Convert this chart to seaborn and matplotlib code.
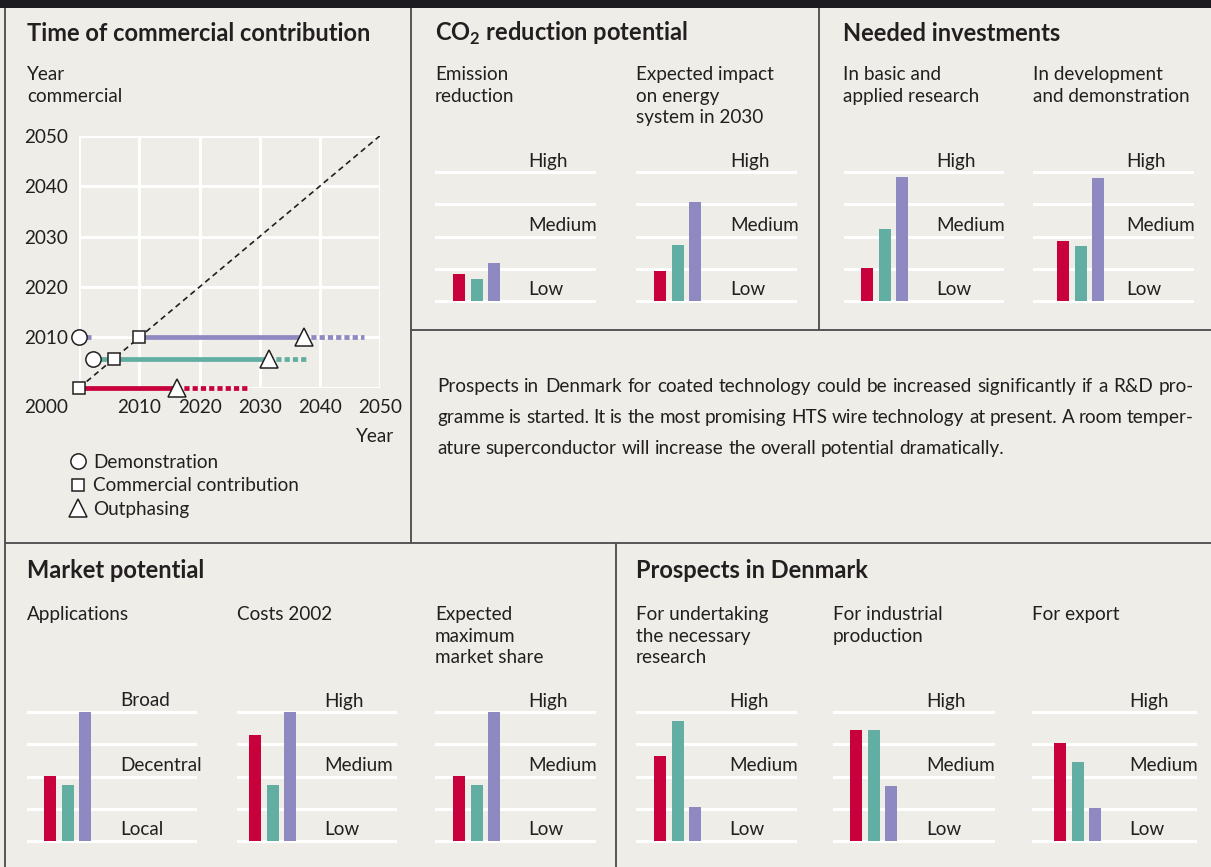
import matplotlib
matplotlib.use("Agg")
import matplotlib.pyplot as plt
import numpy as np
import pandas as pd
import seaborn as sns

W, H = 1211, 867
BG = "#EEEDE7"
INK = "#231F20"
RULE = "#4A4A4A"
RED, TEAL, PURPLE = "#C8003C", "#62AEA2", "#8F89C1"
SERIES_COLORS = [RED, TEAL, PURPLE]

# Time of commercial contribution (one row per technology, row height = commercial year)
demo_year = [np.nan, 2002.3, 2000.0]
demo_line_end = [np.nan, 2005.7, 2002.0]
commercial_year = [2000.0, 2005.7, 2010.0]
outphase_year = [2016.2, 2031.6, 2037.3]
outphase_end = [2028.4, 2038.1, 2047.4]
axis_years = [2000, 2010, 2020, 2030, 2040, 2050]
legend_labels = ["Demonstration", "Commercial contribution", "Outphasing"]

# Rating charts, 0..4 scale with labels on levels 0, 2 and 4
level_lines = [0, 1, 2, 3, 4]
label_levels = [0, 2, 4]
rating_labels = ["Low", "Medium", "High"]
application_labels = ["Local", "Decentral", "Broad"]
techs = ["red", "teal", "purple"]

emission_reduction = [0.83, 0.68, 1.17]
energy_impact_2030 = [0.92, 1.73, 3.07]
invest_research = [1.02, 2.23, 3.85]
invest_development = [1.86, 1.70, 3.82]
applications = [2.01, 1.73, 4.00]
costs_2002 = [3.30, 1.74, 4.00]
max_market_share = [2.02, 1.74, 4.00]
dk_research = [2.64, 3.73, 1.05]
dk_production = [3.46, 3.46, 1.71]
dk_export = [3.05, 2.46, 1.03]

body_lines = [
    "Prospects in Denmark for coated technology could be increased significantly if a R&D pro-",
    "gramme is started. It is the most promising HTS wire technology at present. A room temper-",
    "ature superconductor will increase the overall potential dramatically.",
]

plt.rcParams["font.family"] = ["Lato", "DejaVu Sans"]
plt.rcParams["mathtext.fontset"] = "custom"
plt.rcParams["mathtext.rm"] = "Lato"
plt.rcParams["mathtext.bf"] = "Lato:bold"
FS = 13.6
TFS = 17

fig = plt.figure(figsize=(W / 100, H / 100), dpi=100, facecolor=BG)


def px_axes(left, top, right, bottom):
    return fig.add_axes([left / W, 1 - bottom / H, (right - left) / W, (bottom - top) / H])


# overlay in pixel coordinates for frames and text
ov = px_axes(0, 0, W, H)
ov.set_xlim(0, W)
ov.set_ylim(H, 0)
ov.set_axis_off()

ov.add_patch(plt.Rectangle((0, 0), W, 8, color="#1C1B20", lw=0))
for (x0, y0), (x1, y1) in [((4.5, 8), (4.5, H)), ((411, 8), (411, 543)), ((819, 8), (819, 330)),
                           ((411, 330), (W, 330)), ((4.5, 543), (W, 543)), ((615.5, 543), (615.5, H))]:
    ov.plot([x0, x1], [y0, y1], color=RULE, lw=1.3, solid_capstyle="butt")


def lines_text(x, baseline, text, **kw):
    for i, line in enumerate(text.split("\n")):
        ov.text(x, baseline + i * 21.6, line, va="baseline", ha="left", color=INK, **kw)


lines_text(27, 41, "Time of commercial contribution", fontsize=TFS, fontweight="bold")
lines_text(435, 41, "CO$_{\\mathbf{2}}$ reduction potential", fontsize=TFS, fontweight="bold")
lines_text(843, 41, "Needed investments", fontsize=TFS, fontweight="bold")
lines_text(27, 578, "Market potential", fontsize=TFS, fontweight="bold")
lines_text(636, 578, "Prospects in Denmark", fontsize=TFS, fontweight="bold")
lines_text(27, 80, "Year\ncommercial", fontsize=FS)

# ---- timeline chart -------------------------------------------------------
tl = px_axes(79.3, 135.7, 380, 387.7)
tl.set_facecolor("none")
for s in tl.spines.values():
    s.set_visible(False)
for yr in axis_years:
    tl.axvline(yr, color="white", lw=2.1, zorder=0)
    tl.axhline(yr, color="white", lw=2.1, zorder=0)
sns.lineplot(x=axis_years, y=axis_years, color=INK, lw=1.2, linestyle=(0, (3.4, 2.4)), ax=tl, zorder=2)

for i, c in enumerate(SERIES_COLORS):
    row = commercial_year[i]
    if not np.isnan(demo_year[i]):
        tl.plot([demo_year[i], demo_line_end[i]], [row, row], color=c, lw=3.4,
                solid_capstyle="butt", zorder=3, clip_on=False)
    tl.plot([commercial_year[i], outphase_year[i]], [row, row], color=c, lw=3.4,
            solid_capstyle="butt", zorder=3, clip_on=False)
    tl.plot([outphase_year[i], outphase_end[i]], [row, row], color=c, lw=3.4,
            linestyle=(0.3, (1.1, 0.65)), zorder=3, clip_on=False)
    mk = dict(mfc="white", mec=INK, mew=1.1, clip_on=False, zorder=5, ls="none")
    if not np.isnan(demo_year[i]):
        tl.plot([demo_year[i]], [row], marker="o", ms=11, **mk)
    tl.plot([commercial_year[i]], [row], marker="s", ms=9.2, **mk)
    tl.plot([outphase_year[i]], [row], marker="^", ms=12.5, **mk)

tl.set_xlim(axis_years[0], axis_years[-1])
tl.set_ylim(axis_years[0], axis_years[-1])
tl.set_xticks(axis_years[1:])
tl.set_yticks(axis_years[1:])
tl.tick_params(length=0, labelsize=FS, labelcolor=INK)
tl.tick_params(axis="y", pad=8.2)
tl.tick_params(axis="x", pad=18.5)
for lab in tl.get_xticklabels():
    lab.set_va("baseline")
tl.annotate(str(axis_years[0]), xy=(axis_years[0], axis_years[0]), xytext=(-11.3, -25.5),
            textcoords="offset pixels", ha="right", va="baseline", fontsize=FS, color=INK,
            annotation_clip=False)
tl.annotate("Year", xy=(axis_years[-1], axis_years[0]), xytext=(14, -54),
            textcoords="offset pixels", ha="right", va="baseline", fontsize=FS, color=INK,
            annotation_clip=False)

# legend key
for k, (m, ms, lab) in enumerate(zip(["o", "s", "^"], [11, 9.2, 12.5], legend_labels)):
    y = 461 + k * 23.5
    ov.plot([78], [y], marker=m, ms=ms, mfc="white", mec=INK, mew=1.1, ls="none")
    ov.text(93, y + 6.5, lab, fontsize=FS, color=INK, va="baseline", ha="left")

# ---- rating charts --------------------------------------------------------
UNIT = 32.1
PITCH = 17.5
YMIN, YMAX = -0.15, 4.15


def rating_chart(frame, base, title, values, labels, title_x=None):
    # frame: (rule left, rule right, first bar left edge, level label x) in pixels
    left, right, bar_left, label_x = frame
    lines_text(left if title_x is None else title_x, base - 220.7, title, fontsize=FS)
    ax = px_axes(left, base - YMAX * UNIT, right, base - YMIN * UNIT)
    for lv in level_lines:
        ax.axhline(lv, color="white", lw=2.2, zorder=0)
    df = pd.DataFrame({"tech": techs, "value": values})
    sns.barplot(data=df, x="tech", y="value", hue="tech", palette=SERIES_COLORS,
                width=12 / PITCH, saturation=1, legend=False, ax=ax, zorder=2)
    x0 = -(bar_left + 6 - left) / PITCH
    ax.set_xlim(x0, x0 + (right - left) / PITCH)
    ax.set_ylim(YMIN, YMAX)
    ax.set_axis_off()
    for lab, lv in zip(labels, label_levels):
        ax.annotate(lab, xy=(x0 + (label_x - left) / PITCH, lv), xytext=(0, 5.8),
                    textcoords="offset pixels", ha="left", va="baseline", fontsize=FS,
                    color=INK, annotation_clip=False)


TOP, BOT = 300.7, 840.7
rating_chart((435, 596, 453, 528), TOP, "Emission\nreduction", emission_reduction, rating_labels)
rating_chart((636, 797, 654, 730), TOP, "Expected impact\non energy\nsystem in 2030", energy_impact_2030, rating_labels)
rating_chart((844, 1004, 861, 936), TOP, "In basic and\napplied research", invest_research, rating_labels, 843)
rating_chart((1033, 1194, 1057, 1126), TOP, "In development\nand demonstration", invest_development, rating_labels)
rating_chart((27, 197, 44, 120), BOT, "Applications", applications, application_labels)
rating_chart((237, 397, 249, 324), BOT, "Costs 2002", costs_2002, rating_labels)
rating_chart((435, 596, 453, 528), BOT, "Expected\nmaximum\nmarket share", max_market_share, rating_labels)
rating_chart((636, 797, 654, 729), BOT, "For undertaking\nthe necessary\nresearch", dk_research, rating_labels)
rating_chart((833, 995, 850, 926), BOT, "For industrial\nproduction", dk_production, rating_labels)
rating_chart((1032, 1197, 1054, 1129), BOT, "For export", dk_export, rating_labels)

# ---- justified body text ---------------------------------------------------
renderer = fig.canvas.get_renderer()
bx0, bx1 = 437, 1194
probe_a = ov.text(0, 0, "x x", fontsize=FS)
probe_b = ov.text(0, 0, "xx", fontsize=FS)
space = probe_a.get_window_extent(renderer).width - probe_b.get_window_extent(renderer).width
probe_a.remove()
probe_b.remove()
for k, line in enumerate(body_lines):
    y = 392 + k * 31
    words = line.split()
    texts = [ov.text(0, y, w, fontsize=FS, color=INK, va="baseline", ha="left") for w in words]
    widths = [t.get_window_extent(renderer).width for t in texts]
    gap = (bx1 - bx0 - sum(widths)) / (len(words) - 1) if k < len(body_lines) - 1 else space
    x = bx0
    for t, w in zip(texts, widths):
        t.set_x(x)
        x += w + gap

fig.savefig("out.png", dpi=100, facecolor=BG)
